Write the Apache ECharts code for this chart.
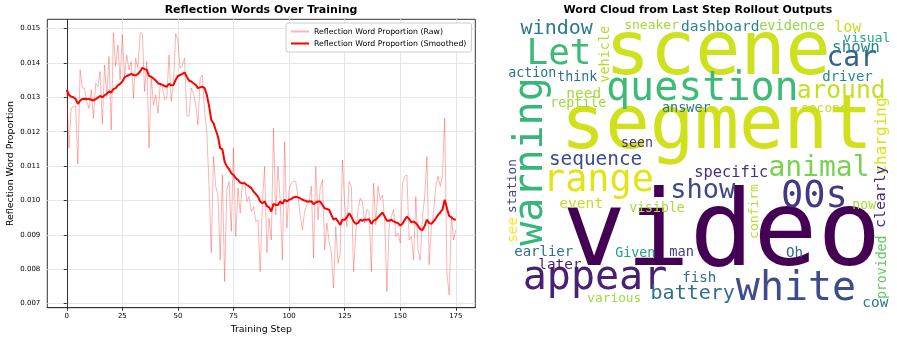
<!DOCTYPE html>
<html>
<head>
<meta charset="utf-8">
<script src="https://cdn.jsdelivr.net/npm/echarts@6/dist/echarts.min.js"></script>
<style>
  html, body { margin: 0; padding: 0; background: #fff; }
  #container { width: 897px; height: 340px; }
</style>
</head>
<body>
<div id="container"></div>
<script>
// reflection word proportion per training step (index = step)
const rawProportion = [
  0.01322, 0.01152, 0.01268, 0.01273, 0.01275, 0.01106, 0.01380, 0.01327, 0.01327, 0.01288,
  0.01268, 0.01322, 0.01239, 0.01341, 0.01331, 0.01375, 0.01223, 0.01394, 0.01302, 0.01419,
  0.01205, 0.01488, 0.01390, 0.01453, 0.01351, 0.01482, 0.01360, 0.01423, 0.01380, 0.01404,
  0.01297, 0.01414, 0.01385, 0.01488, 0.01485, 0.01317, 0.01404, 0.01152, 0.01360, 0.01278,
  0.01307, 0.01254, 0.01336, 0.01331, 0.01293, 0.01297, 0.01423, 0.01288, 0.01341, 0.01485,
  0.01467, 0.01385, 0.01394, 0.01414, 0.01246, 0.01246, 0.01327, 0.01312, 0.01278, 0.01220,
  0.01356, 0.01365, 0.01259, 0.01200, 0.01041, 0.00848, 0.01128, 0.01041, 0.01016, 0.00827,
  0.01074, 0.00764, 0.01031, 0.01055, 0.00910, 0.01152, 0.00895, 0.01036, 0.00963, 0.01050,
  0.01055, 0.00997, 0.01011, 0.00968, 0.00982, 0.00939, 0.00944, 0.00793, 0.00992, 0.01099,
  0.00848, 0.00948, 0.00885, 0.01210, 0.00958, 0.01099, 0.01002, 0.00827, 0.01171, 0.00919,
  0.01031, 0.01050, 0.01055, 0.01055, 0.01011, 0.00958, 0.00914, 0.00968, 0.00987, 0.00997,
  0.01041, 0.00832, 0.01099, 0.00944, 0.01036, 0.01060, 0.00856, 0.00934, 0.00880, 0.00847,
  0.00745, 0.00924, 0.00817, 0.00847, 0.01118, 0.00987, 0.00924, 0.01055, 0.01041, 0.00793,
  0.00905, 0.00973, 0.01007, 0.00997, 0.00934, 0.00973, 0.00968, 0.00793, 0.01050, 0.00929,
  0.01041, 0.01002, 0.01016, 0.00944, 0.00735, 0.00924, 0.00953, 0.00973, 0.00895, 0.00905,
  0.00876, 0.01050, 0.01070, 0.01074, 0.00885, 0.00895, 0.00827, 0.01011, 0.00856, 0.00827,
  0.00953, 0.01011, 0.01128, 0.00813, 0.00924, 0.00963, 0.01041, 0.01070, 0.01041, 0.01074,
  0.01239, 0.00788, 0.00725, 0.00953, 0.00885, 0.00914
];

const smoothedProportion = [
  0.01322, 0.01307, 0.01302, 0.01300, 0.01295, 0.01281, 0.01290, 0.01295, 0.01296, 0.01295,
  0.01295, 0.01293, 0.01291, 0.01295, 0.01299, 0.01304, 0.01300, 0.01306, 0.01310, 0.01317,
  0.01314, 0.01324, 0.01327, 0.01335, 0.01339, 0.01346, 0.01358, 0.01362, 0.01365, 0.01368,
  0.01365, 0.01364, 0.01368, 0.01375, 0.01386, 0.01382, 0.01380, 0.01362, 0.01360, 0.01355,
  0.01349, 0.01341, 0.01339, 0.01336, 0.01333, 0.01331, 0.01339, 0.01335, 0.01336, 0.01351,
  0.01362, 0.01365, 0.01368, 0.01372, 0.01360, 0.01349, 0.01346, 0.01341, 0.01336, 0.01327,
  0.01329, 0.01331, 0.01327, 0.01307, 0.01275, 0.01234, 0.01225, 0.01205, 0.01186, 0.01152,
  0.01149, 0.01113, 0.01099, 0.01091, 0.01079, 0.01074, 0.01065, 0.01060, 0.01052, 0.01050,
  0.01050, 0.01045, 0.01041, 0.01036, 0.01026, 0.01019, 0.01011, 0.00997, 0.00992, 0.00997,
  0.00984, 0.00980, 0.00968, 0.00990, 0.00987, 0.00987, 0.00997, 0.00990, 0.01002, 0.00997,
  0.01002, 0.01004, 0.01009, 0.01011, 0.01009, 0.01006, 0.01002, 0.01000, 0.00997, 0.00997,
  0.00998, 0.00989, 0.00994, 0.00997, 0.00997, 0.00987, 0.00977, 0.00975, 0.00973, 0.00958,
  0.00944, 0.00948, 0.00939, 0.00929, 0.00944, 0.00944, 0.00951, 0.00963, 0.00953, 0.00939,
  0.00932, 0.00934, 0.00944, 0.00941, 0.00944, 0.00944, 0.00945, 0.00932, 0.00941, 0.00944,
  0.00951, 0.00958, 0.00965, 0.00953, 0.00941, 0.00941, 0.00944, 0.00939, 0.00936, 0.00934,
  0.00927, 0.00932, 0.00944, 0.00953, 0.00946, 0.00936, 0.00939, 0.00934, 0.00926, 0.00916,
  0.00914, 0.00926, 0.00944, 0.00934, 0.00932, 0.00939, 0.00948, 0.00958, 0.00965, 0.00973,
  0.01002, 0.00977, 0.00955, 0.00951, 0.00945, 0.00944
];

const xTicks = [0, 25, 50, 75, 100, 125, 150, 175];
const yTicks = [0.007, 0.008, 0.009, 0.010, 0.011, 0.012, 0.013, 0.014, 0.015];

// word cloud words
const cloudWords = [
  'video', 'scene', 'segment', 'question', 'warning', 'white', 'appear', 'Let', 'range', '00s',
  'car', 'animal', 'show', 'around', 'battery', 'window', 'sequence', 'charging', 'specific', 'shown',
  'low', 'clearly', 'event', 'need', 'fish', 'cow', 'see', 'Oh', 'later', 'earlier',
  'driver', 'answer', 'dashboard', 'evidence', 'vehicle', 'action', 'think', 'reptile', 'seen', 'man',
  'Given', 'visible', 'now', 'confirm', 'provided', 'second', 'visual', 'sneaker', 'station', 'various'
];

// word cloud placement: [x, y, font size, rotation, colour]
const cloudLayout = [
  [721.7, 237, 106, 0, '#440154'],
  [717.8, 54.3, 75, 0, '#cde11d'],
  [716.7, 128.6, 74, 0, '#d0e11c'],
  [702.3, 89.8, 40, 0, '#3bbb75'],
  [531.8, 161.5, 40, 90, '#35b779'],
  [796, 289.8, 40, 0, '#3e4c8a'],
  [595, 278.5, 40, 0, '#482173'],
  [559, 54.8, 36, 0, '#3bbb75'],
  [598.4, 181.2, 36.8, 0, '#e2e418'],
  [814.3, 197.8, 37, 0, '#453781'],
  [851.8, 59, 28, 0, '#33638d'],
  [819, 168.8, 28, 0, '#7ad151'],
  [702.8, 191.1, 27, 0, '#3f4788'],
  [841.1, 91.9, 24.6, 0, '#c2df23'],
  [692.7, 293.4, 20, 0, '#2e6f8e'],
  [556.7, 29.1, 20, 0, '#2a788e'],
  [595.6, 160.3, 19.4, 0, '#3e4a89'],
  [881.7, 136, 16, 90, '#dde318'],
  [731.2, 172.9, 15.4, 0, '#472f7d'],
  [855.9, 48.1, 15.8, 0, '#25848e'],
  [847.8, 28.4, 15, 0, '#c8e020'],
  [881, 196.7, 14.8, 90, '#482979'],
  [581.2, 204.2, 14.6, 0, '#c2df23'],
  [583.7, 94.2, 14.5, 0, '#a5db36'],
  [699.3, 278.3, 14.2, 0, '#2c718e'],
  [875.3, 303.2, 14.4, 0, '#2a788e'],
  [513.3, 229.9, 14.3, 90, '#fde725'],
  [794.6, 253.3, 14.3, 0, '#31678e'],
  [559.9, 265.2, 14.4, 0, '#481c6e'],
  [543.7, 252.1, 14, 0, '#2d708e'],
  [847.5, 77.1, 14, 0, '#23898e'],
  [686.3, 108.5, 13.5, 0, '#2a788e'],
  [720.2, 26.9, 14.5, 0, '#25858e'],
  [791.9, 26.2, 13.6, 0, '#8fd744'],
  [605.5, 54.2, 13.5, 90, '#b5de2b'],
  [532.2, 73.9, 13.3, 0, '#2c728e'],
  [577.3, 77.3, 13.3, 0, '#2c728e'],
  [578.2, 103.9, 13.3, 0, '#9bd93c'],
  [637, 143.6, 13.3, 0, '#46337f'],
  [681.6, 252.2, 13.7, 0, '#433e85'],
  [635.3, 253.6, 13.3, 0, '#20a386'],
  [657, 208.3, 13.2, 0, '#a8db34'],
  [864.3, 205.6, 13.3, 0, '#a5db36'],
  [754.7, 211.5, 13, 90, '#bade28'],
  [882.6, 267.3, 13.2, 90, '#5ec962'],
  [824.4, 108.7, 13, 0, '#c2df23'],
  [866.8, 39, 13, 0, '#22a785'],
  [651.6, 25.7, 13, 0, '#a2da37'],
  [512.8, 186, 12.8, 90, '#424186'],
  [614.3, 299, 12.8, 0, '#9fda3a']
];

const chart = echarts.init(document.getElementById('container'));

const tickFont = { fontFamily: 'DejaVu Sans', fontSize: 7, color: '#000' };

const option = {
  animation: false,
  backgroundColor: '#fff',
  graphic: [
    {
      type: 'text', x: 261, y: 10.5,
      style: {
        text: 'Reflection Words Over Training', align: 'center', verticalAlign: 'middle',
        fontFamily: 'DejaVu Sans', fontWeight: 'bold', fontSize: 11, fill: '#000'
      }
    },
    {
      type: 'text', x: 698, y: 10.5,
      style: {
        text: 'Word Cloud from Last Step Rollout Outputs', align: 'center', verticalAlign: 'middle',
        fontFamily: 'DejaVu Sans', fontWeight: 'bold', fontSize: 11, fill: '#000'
      }
    }
  ],
  legend: {
    orient: 'vertical',
    left: 286,
    top: 23,
    padding: [4, 5],
    itemGap: 3,
    itemWidth: 18,
    itemHeight: 2,
    icon: 'rect',
    backgroundColor: '#fff',
    borderColor: '#cccccc',
    borderWidth: 1,
    borderRadius: 2,
    textStyle: { fontFamily: 'DejaVu Sans', fontSize: 7.8, color: '#000', lineHeight: 9 },
    data: [
      { name: 'Reflection Word Proportion (Raw)', itemStyle: { color: 'rgba(255,0,0,0.3)' } },
      { name: 'Reflection Word Proportion (Smoothed)', itemStyle: { color: '#ff0000' } }
    ]
  },
  grid: [
    {
      left: 47.3, right: 421.7, top: 19.3, bottom: 32.3,
      show: true, borderColor: '#333', borderWidth: 1
    },
    { left: 0, right: 0, top: 0, bottom: 0 }
  ],
  xAxis: [
    {
      type: 'value',
      gridIndex: 0,
      min: -8.75,
      max: 183.75,
      name: 'Training Step',
      nameLocation: 'middle',
      nameGap: 14,
      nameTextStyle: { fontFamily: 'DejaVu Sans', fontSize: 9.4, color: '#000', verticalAlign: 'top' },
      axisLine: { show: true, onZero: false, lineStyle: { color: '#333', width: 1 } },
      axisTick: { show: true, inside: false, length: 3, lineStyle: { color: '#333' }, customValues: xTicks },
      axisLabel: { ...tickFont, margin: 5, customValues: xTicks },
      splitLine: { show: true, lineStyle: { color: '#e6e6e6', width: 1 } }
    },
    {
      type: 'value', gridIndex: 1, min: 0, max: 897, show: false
    }
  ],
  yAxis: [
    {
      type: 'value',
      gridIndex: 0,
      min: 0.00688,
      max: 0.01527,
      name: 'Reflection Word Proportion',
      nameLocation: 'middle',
      nameGap: 32,
      nameTextStyle: { fontFamily: 'DejaVu Sans', fontSize: 9.4, color: '#000' },
      axisLine: { show: true, lineStyle: { color: '#333', width: 1 } },
      axisTick: { show: true, inside: false, length: 3, lineStyle: { color: '#333' }, customValues: yTicks },
      axisLabel: {
        ...tickFont, margin: 7, customValues: yTicks,
        formatter: v => v.toFixed(3)
      },
      splitLine: { show: true, lineStyle: { color: '#e6e6e6', width: 1 } }
    },
    {
      type: 'value', gridIndex: 1, min: 0, max: 340, inverse: true, show: false
    }
  ],
  series: [
    {
      name: 'Reflection Word Proportion (Raw)',
      type: 'line',
      xAxisIndex: 0,
      yAxisIndex: 0,
      symbol: 'none',
      lineStyle: { color: 'rgba(255,0,0,0.3)', width: 1 },
      itemStyle: { color: 'rgba(255,0,0,0.3)' },
      data: rawProportion.map((v, i) => [i, v])
    },
    {
      name: 'Reflection Word Proportion (Smoothed)',
      type: 'line',
      xAxisIndex: 0,
      yAxisIndex: 0,
      symbol: 'none',
      lineStyle: { color: '#ff0000', width: 2 },
      itemStyle: { color: '#ff0000' },
      data: smoothedProportion.map((v, i) => [i, v])
    },
    {
      type: 'scatter',
      xAxisIndex: 1,
      yAxisIndex: 1,
      symbolSize: 0,
      silent: true,
      itemStyle: { opacity: 1 },
      label: {
        show: true,
        position: 'inside',
        align: 'center',
        verticalAlign: 'middle',
        opacity: 1,
        fontFamily: 'DejaVu Sans Mono',
        formatter: '{b}'
      },
      data: cloudWords.map((w, i) => {
        const [x, y, size, rot, color] = cloudLayout[i];
        return {
          name: w,
          value: [x, y],
          label: { fontSize: size, rotate: rot, color: color }
        };
      })
    }
  ]
};

chart.setOption(option);
</script>
</body>
</html>
